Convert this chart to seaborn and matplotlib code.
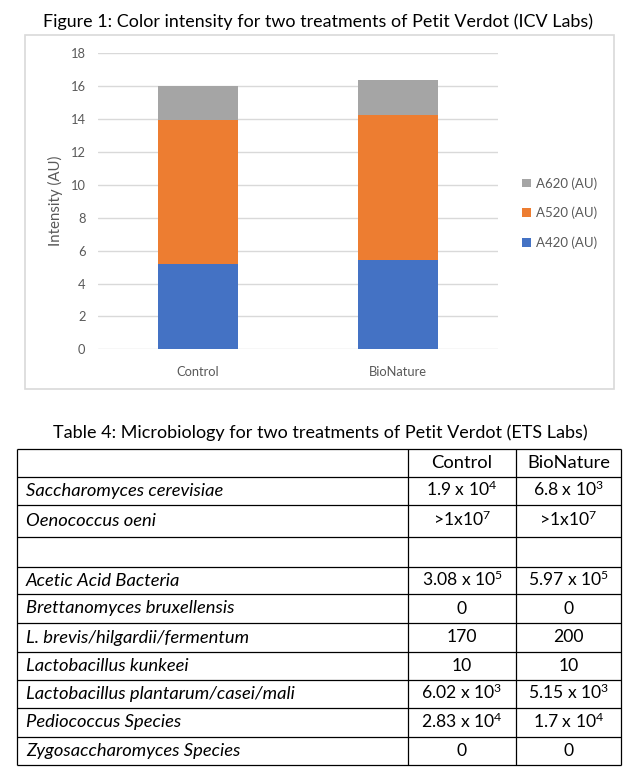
import numpy as np
import matplotlib
matplotlib.use('Agg')
import matplotlib.pyplot as plt
import matplotlib.patches as mpatches
import seaborn as sns

# Figure 1 data
categories = ['Control', 'BioNature']
a420 = [5.2, 5.4]
a520 = [8.75, 8.85]
a620 = [2.05, 2.1]
series_names = ['A420 (AU)', 'A520 (AU)', 'A620 (AU)']
colors = ['#4472c4', '#ed7d31', '#a5a5a5']

# Table 4 data
col_headers = ['Control', 'BioNature']
row_names = ['Saccharomyces cerevisiae', 'Oenococcus oeni', '', 'Acetic Acid Bacteria',
             'Brettanomyces bruxellensis', 'L. brevis/hilgardii/fermentum',
             'Lactobacillus kunkeei', 'Lactobacillus plantarum/casei/mali',
             'Pediococcus Species', 'Zygosaccharomyces Species']
control_vals = [r'1.9 x $10^{4}$', r'>1x$10^{7}$', '', r'3.08 x $10^{5}$', '0', '170', '10',
                r'6.02 x $10^{3}$', r'2.83 x $10^{4}$', '0']
bionature_vals = [r'6.8 x $10^{3}$', r'>1x$10^{7}$', '', r'5.97 x $10^{5}$', '0', '200', '10',
                  r'5.15 x $10^{3}$', r'1.7 x $10^{4}$', '0']

sns.set_theme(style='white')
plt.rcParams['font.family'] = ['Lato', 'DejaVu Sans']
plt.rcParams['mathtext.fontset'] = 'custom'
plt.rcParams['mathtext.rm'] = 'Lato'
plt.rcParams['mathtext.it'] = 'Lato:italic'
plt.rcParams['mathtext.bf'] = 'Lato:bold'

W, H = 640, 776
fig = plt.figure(figsize=(W / 100, H / 100), dpi=100)
fig.patch.set_facecolor('white')

# chart frame
fig.add_artist(mpatches.Rectangle((24.5 / W, 1 - 389 / H), (614 - 24.5) / W, (389 - 35) / H,
                                  transform=fig.transFigure, fill=False,
                                  edgecolor='#d9d9d9', lw=1.2))
fig.text(318 / W, 1 - 22 / H, 'Figure 1: Color intensity for two treatments of Petit Verdot (ICV Labs)',
         ha='center', va='center', fontsize=12.9, color='black')

ax = fig.add_axes([98 / W, 1 - 349.3 / H, 400 / W, (349.3 - 53.3) / H])
tops = np.cumsum([a420, a520, a620], axis=0)
for i in reversed(range(3)):
    sns.barplot(x=categories, y=tops[i], color=colors[i], width=0.4, saturation=1,
                errorbar=None, linewidth=0, label=series_names[i], ax=ax, zorder=3)

ax.set_ylim(0, 18)
ax.set_yticks(range(0, 19, 2))
ax.set_xlim(-0.5, 1.5)
ax.grid(axis='y', color='#d9d9d9', lw=1, zorder=0)
ax.set_axisbelow(True)
for s in ax.spines.values():
    s.set_visible(False)
ax.tick_params(axis='both', length=0, labelsize=9.3, labelcolor='#595959')
ax.tick_params(axis='x', pad=12)
ax.tick_params(axis='y', pad=9)
ax.set_xlabel('')
ax.set_ylabel('Intensity (AU)', fontsize=10.8, color='#595959')
ax.yaxis.set_label_coords(-0.088, 0.5)

ax.legend(loc='upper left', bbox_to_anchor=(522 / W, 1 - 177 / H), bbox_transform=fig.transFigure,
          frameon=False, fontsize=9.5, labelcolor='#595959', borderpad=0, borderaxespad=0,
          handlelength=0.65, handleheight=0.65, handletextpad=0.4, labelspacing=1.3)

# Table 4
fig.text(320 / W, 1 - 433 / H, 'Table 4: Microbiology for two treatments of Petit Verdot (ETS Labs)',
         ha='center', va='center', fontsize=13, color='black')
tab = fig.add_axes([0, 0, 1, 1])
tab.set_xlim(0, W)
tab.set_ylim(H, 0)
tab.axis('off')
row_edges = [449, 477, 505, 537, 567, 594, 623, 652, 680, 708, 737, 765]
col_edges = [17, 408, 516, 621]
tab.hlines(row_edges, col_edges[0], col_edges[-1], color='black', lw=0.9)
tab.vlines(col_edges, row_edges[0], row_edges[-1], color='black', lw=0.9)

mids = [(row_edges[k] + row_edges[k + 1]) / 2 for k in range(len(row_edges) - 1)]
c1 = (col_edges[1] + col_edges[2]) / 2
c2 = (col_edges[2] + col_edges[3]) / 2
fs = 13.2
fs_val = 12.6
tab.text(c1, mids[0] + 5, col_headers[0], ha='center', va='baseline', fontsize=fs, color='black')
tab.text(c2, mids[0] + 5, col_headers[1], ha='center', va='baseline', fontsize=fs, color='black')
for k, name in enumerate(row_names):
    y = mids[k + 1] + 5
    tab.text(26, y, name, ha='left', va='baseline', fontsize=fs, style='italic', color='black')
    tab.text(c1, y, control_vals[k], ha='center', va='baseline', fontsize=fs_val, color='black')
    tab.text(c2, y, bionature_vals[k], ha='center', va='baseline', fontsize=fs_val, color='black')

fig.savefig('out.png', dpi=100, facecolor='white')
